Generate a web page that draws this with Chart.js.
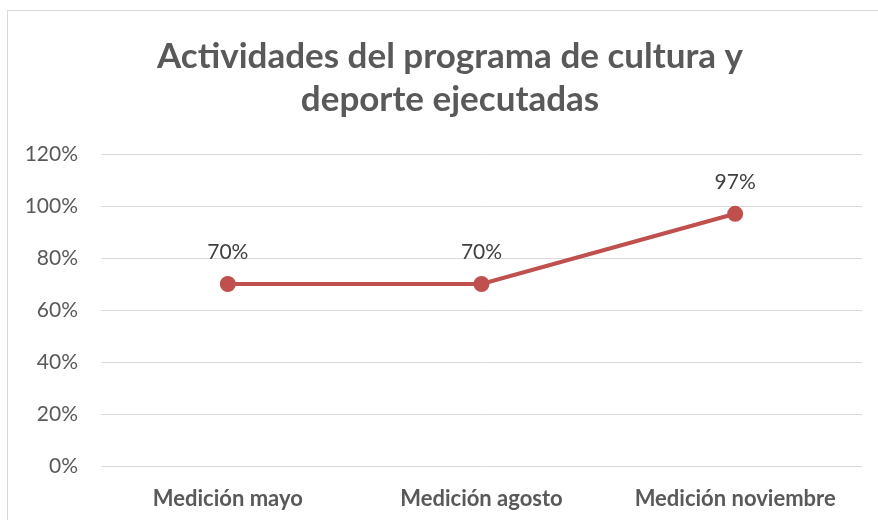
<!DOCTYPE html>
<html>
<head>
<meta charset="utf-8">
<script src="https://cdn.jsdelivr.net/npm/chart.js@4"></script>
<style>
  html, body { margin: 0; padding: 0; background: #fff; }
  #wrap { position: relative; width: 878px; height: 520px; }
</style>
</head>
<body>
<div id="wrap"><canvas id="myChart" width="878" height="520"></canvas></div>
<script>
const categories = ["Medición mayo", "Medición agosto", "Medición noviembre"];
const values = [70, 70, 97];
const yTicks = [0, 20, 40, 60, 80, 100, 120];
const titleLines = ["Actividades del programa de cultura y", "deporte ejecutadas"];

const FONT = "Lato, 'Open Sans', sans-serif";

// thin border round the chart box, like the office chart frame
const frame = {
  id: "frame",
  beforeDraw(chart) {
    const ctx = chart.ctx;
    ctx.save();
    ctx.strokeStyle = "#D9D9D9";
    ctx.lineWidth = 1;
    ctx.strokeRect(7.5, 10.5, 900, 600);
    ctx.restore();
  }
};

// title, centred on the frame rather than the plot
const titleText = {
  id: "titleText",
  afterDraw(chart) {
    const ctx = chart.ctx;
    ctx.save();
    ctx.font = "bold 35px " + FONT;
    ctx.fillStyle = "#595959";
    ctx.textAlign = "center";
    ctx.textBaseline = "middle";
    titleLines.forEach((line, i) => ctx.fillText(line, 450, 57 + i * 43));
    ctx.restore();
  }
};

// percent labels above each point
const pointLabels = {
  id: "pointLabels",
  afterDatasetsDraw(chart) {
    const ctx = chart.ctx;
    const meta = chart.getDatasetMeta(0);
    ctx.save();
    ctx.font = "21px " + FONT;
    ctx.fillStyle = "#404040";
    ctx.textAlign = "center";
    ctx.textBaseline = "middle";
    meta.data.forEach((pt, i) => {
      ctx.fillText(values[i] + "%", pt.x, pt.y - 32);
    });
    ctx.restore();
  }
};

new Chart("myChart", {
  type: "line",
  data: {
    labels: categories,
    datasets: [{
      data: values,
      borderColor: "#C0504D",
      backgroundColor: "#C0504D",
      borderWidth: 4,
      pointRadius: 6,
      pointHoverRadius: 6,
      tension: 0
    }]
  },
  options: {
    responsive: false,
    animation: false,
    layout: { padding: { left: 0, right: 16, top: 154, bottom: 0 } },
    plugins: {
      legend: { display: false },
      tooltip: { enabled: false },
      title: { display: false }
    },
    scales: {
      x: {
        offset: true,
        grid: { display: false, drawTicks: false },
        border: { display: false },
        ticks: {
          color: "#595959",
          padding: 20,
          maxRotation: 0,
          font: { family: FONT, size: 22, weight: "bold" }
        },
        afterFit(scale) {
          scale.height = 54;
          scale.paddingLeft = 0;
          scale.paddingRight = 0;
        }
      },
      y: {
        min: 0,
        max: 120,
        afterBuildTicks(scale) { scale.ticks = yTicks.map(v => ({ value: v })); },
        grid: { color: "#D9D9D9", lineWidth: 1, drawTicks: false },
        border: { display: false },
        ticks: {
          color: "#595959",
          padding: 23,
          font: { family: FONT, size: 21 },
          callback: v => v + "%"
        },
        afterFit(scale) {
          scale.width = 101;
          scale.paddingTop = 0;
          scale.paddingBottom = 0;
        }
      }
    }
  },
  plugins: [frame, titleText, pointLabels]
});
</script>
</body>
</html>
